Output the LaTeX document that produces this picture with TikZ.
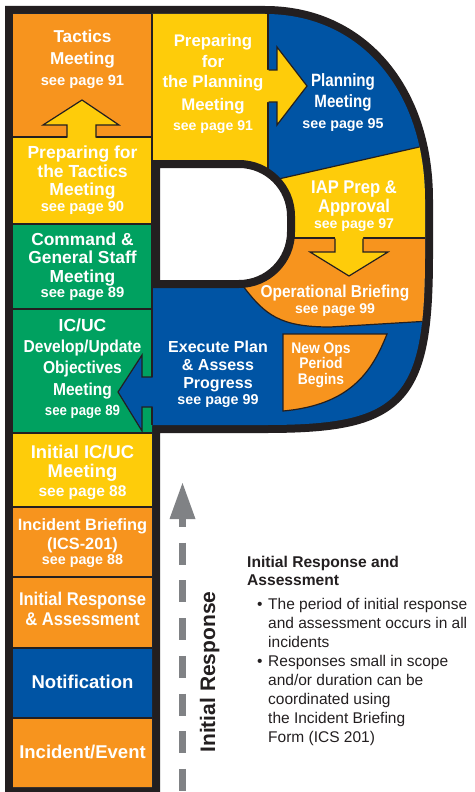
\documentclass[tikz,border=0pt]{standalone}
\usepackage{fontspec}
\setmainfont{Liberation Sans}
\newfontfamily\cnA[FakeStretch=0.9]{Liberation Sans}
\newfontfamily\cnB[FakeStretch=0.85]{Liberation Sans}
\newcommand\fsz[1]{\fontsize{#1}{#1}\selectfont}
\definecolor{corange}{HTML}{F7941E}
\definecolor{cyellow}{HTML}{FECC0A}
\definecolor{cgreen}{HTML}{00A160}
\definecolor{cblue}{HTML}{0054A4}
\definecolor{cdark}{HTML}{231F20}
\definecolor{cgray}{HTML}{808285}
\tikzset{
  ttl/.style={text=white, anchor=base, inner sep=0pt, font=\bfseries\fsz{#1}},
  ttc/.style={text=white, anchor=base, inner sep=0pt, font=\cnA\bfseries\fsz{#1}},
  ttd/.style={text=white, anchor=base, inner sep=0pt, font=\cnB\bfseries\fsz{#1}},
  sepline/.style={draw=cdark, line width=1.2pt},
  outl/.style={draw=cdark, line width=1.2pt, line join=miter},
  body/.style={text=cdark, anchor=base west, inner sep=0pt, font=\fsz{15.5}},
}
\begin{document}
\begin{tikzpicture}[x=1pt, y=-1pt]
\useasboundingbox (0,0) rectangle (474,792);
% outer black frame of the P
\draw[line width=16pt, cdark, line join=miter]
  (13,787) -- (13,14) -- (265,14) .. controls (360,14) and (425,90) .. (425,200)
  -- (425,255) .. controls (425,400) and (400,425) .. (265,425) -- (152,425) -- (152,787) -- cycle;
\begin{scope}
\clip (13,787) -- (13,14) -- (265,14) .. controls (360,14) and (425,90) .. (425,200)
  -- (425,255) .. controls (425,400) and (400,425) .. (265,425) -- (152,425) -- (152,787) -- cycle;
\fill[cblue] (0,0) rectangle (474,792);
% left column
\fill[corange] (13,14) rectangle (152,137);
\fill[cyellow] (13,137) rectangle (152,224);
\fill[cgreen] (13,224) rectangle (152,433);
\fill[cyellow] (13,433) rectangle (152,507);
\fill[corange] (13,507) rectangle (152,648);
\fill[cblue] (13,648) rectangle (152,718);
\fill[corange] (13,718) rectangle (152,792);
% bowl
\fill[cyellow] (152,0) rectangle (268,175);
\fill[cyellow] (268,181.4) -- (480,133.2) -- (480,238) -- (268,238) -- cycle;
\fill[corange] (200,238) -- (480,238) -- (480,321) -- (430,321) -- (330,327)
  .. controls (280,327) and (265,315) .. (243,286) -- (200,286) -- cycle;
% separators
\foreach \yy in {137,224,309,433,507,577,648,718} \draw[sepline] (13,\yy) -- (152,\yy);
\draw[sepline] (152,14) -- (152,425);
\draw[sepline] (268,14) -- (268,175);
\draw[sepline] (268,181.4) -- (480,133.2);
\draw[sepline] (268,238) -- (480,238);
\draw[sepline] (480,321) -- (430,321) -- (330,327) .. controls (280,327) and (265,315) .. (243,286);
\end{scope}
% hole of the P
\draw[fill=white, draw=cdark, line width=8pt, line join=miter]
  (156,164) -- (239,164) .. controls (267.7,164) and (291,187.3) .. (291,216)
  -- (291,232) .. controls (291,260.7) and (267.7,284) .. (239,284) -- (156,284) -- cycle;
% arrows
\fill[cyellow] (67,139) -- (67,125) -- (43,125) -- (82,100) -- (119,125) -- (96,125) -- (96,139) -- cycle;
\draw[outl] (67,137.6) -- (67,125) -- (43,125) -- (82,100) -- (119,125) -- (96,125) -- (96,137.6);
\fill[cyellow] (266,70) -- (277,70) -- (277,47) -- (307,86) -- (277,125) -- (277,102) -- (266,102) -- cycle;
\draw[outl] (268.6,70) -- (277,70) -- (277,47) -- (307,86) -- (277,125) -- (277,102) -- (268.6,102);
\fill[cyellow] (335,236) -- (335,252) -- (310,252) -- (349,276) -- (388,252) -- (363,252) -- (363,236) -- cycle;
\draw[outl] (335,238.6) -- (335,252) -- (310,252) -- (349,276) -- (388,252) -- (363,252) -- (363,238.6);
\fill[cblue] (154,377) -- (142,377) -- (142,355) -- (118,392) -- (142,431) -- (142,407) -- (154,407) -- cycle;
\draw[outl] (152.6,377) -- (142,377) -- (142,355) -- (118,392) -- (142,431) -- (142,407) -- (152.6,407);
% New Ops box
\draw[outl, fill=corange] (283,334) -- (387,334) .. controls (372,372) and (350,405) .. (283,411) -- cycle;
% grey dashed arrow
\coordinate (gtip) at (182.5,483);
\coordinate (gbase) at (182.5,519);
\coordinate (gend) at (182.5,795);
\fill[cgray] (169.5,519) -- (gtip) -- (195.5,519) -- cycle;
\draw[cgray, line width=7pt, dash pattern=on 22pt off 15.7pt, dash phase=14pt] (gbase) -- (gend);
% column texts
\node[ttl=17.2] (tm1) at (82.5,43) {Tactics};
\node[ttl=17.2] (tm2) at (82.5,64) {Meeting};
\node[ttl=14.7] (tm3) at (82.5,85) {see page 91};
\node[ttl=17.5] (pt1) at (82.5,158) {Preparing for};
\node[ttl=17.5] (pt2) at (82.5,177) {the Tactics};
\node[ttl=17.5] (pt3) at (82.5,195) {Meeting};
\node[ttl=14.7] (pt4) at (82.5,211) {see page 90};
\node[ttl=17.4] (cg1) at (82.5,245) {Command \&};
\node[ttl=17.4] (cg2) at (82.5,263) {General Staff};
\node[ttl=17.4] (cg3) at (82.5,282) {Meeting};
\node[ttl=14.8] (cg4) at (82.5,297) {see page 89};
\node[ttl=17.5] (ic1) at (82.5,331) {IC/UC};
\node[ttc=17.3] (ic2) at (82.5,352) {Develop/Update};
\node[ttc=17.3] (ic3) at (82.5,373) {Objectives};
\node[ttc=17.3] (ic4) at (82.5,395) {Meeting};
\node[ttc=14.7] (ic5) at (82.5,415) {see page 89};
\node[ttl=18.4] (ii1) at (82.5,458) {Initial IC/UC};
\node[ttl=18.4] (ii2) at (82.5,477) {Meeting};
\node[ttl=15.5] (ii3) at (82.5,496) {see page 88};
\node[ttl=16.4] (ib1) at (82.5,530) {Incident Briefing};
\node[ttl=16.3] (ib2) at (82.5,549) {(ICS-201)};
\node[ttl=14.3] (ib3) at (82.5,564) {see page 88};
\node[ttc=18.4] (ir1) at (82.5,605) {Initial Response};
\node[ttc=18.4] (ir2) at (82.5,625) {\& Assessment};
\node[ttl=18.5] (nt) at (82.5,688) {Notification};
\node[ttl=18.5] (ie) at (82.5,758) {Incident/Event};
% bowl texts
\node[ttl=16.8] (pp1) at (213,47) {Preparing};
\node[ttl=16.8] (pp2) at (213,67) {for};
\node[ttl=16.8] (pp3) at (213,88) {the Planning};
\node[ttl=16.8] (pp4) at (213,110) {Meeting};
\node[ttl=14.1] (pp5) at (213,130) {see page 91};
\node[ttd=17.8] (pm1) at (343,86) {Planning};
\node[ttd=17.8] (pm2) at (343,107) {Meeting};
\node[ttl=14.3] (pm3) at (343,128) {see page 95};
\node[ttc=18.4] (ia1) at (354,193) {IAP Prep \&};
\node[ttc=18.4] (ia2) at (354,212) {Approval};
\node[ttl=14.1] (ia3) at (354,228) {see page 97};
\node[ttc=17.2] (ob1) at (335,297) {Operational Briefing};
\node[ttl=14.1] (ob2) at (335,313) {see page 99};
\node[ttl=16] (ex1) at (218,352) {Execute Plan};
\node[ttl=16] (ex2) at (218,370) {\& Assess};
\node[ttl=16] (ex3) at (218,388) {Progress};
\node[ttl=14.3] (ex4) at (218,404) {see page 99};
\node[ttc=15.4] (no1) at (321,353) {New Ops};
\node[ttc=15.4] (no2) at (321,368) {Period};
\node[ttc=15.4] (no3) at (321,384) {Begins};
% rotated label
\node[rotate=90, anchor=base, inner sep=0pt, text=cdark, font=\bfseries\fsz{21}] (irr) at (215,672) {Initial Response};
% side text
\node[body, font=\bfseries\fsz{15.6}] (h1) at (247,567) {Initial Response and};
\node[body, font=\bfseries\fsz{15.6}] (h2) at (247,585) {Assessment};
\node[body] (bu1) at (257,609) {\textbullet};
\node[body] (l1) at (268,609) {The period of initial response};
\node[body] (l2) at (268,628) {and assessment occurs in all};
\node[body] (l3) at (268,647) {incidents};
\node[body] (bu2) at (257,666) {\textbullet};
\node[body] (l4) at (268,666) {Responses small in scope};
\node[body] (l5) at (268,685) {and/or duration can be};
\node[body] (l6) at (268,704) {coordinated using};
\node[body] (l7) at (268,723) {the Incident Briefing};
\node[body] (l8) at (268,742) {Form (ICS 201)};
\end{tikzpicture}
\end{document}
